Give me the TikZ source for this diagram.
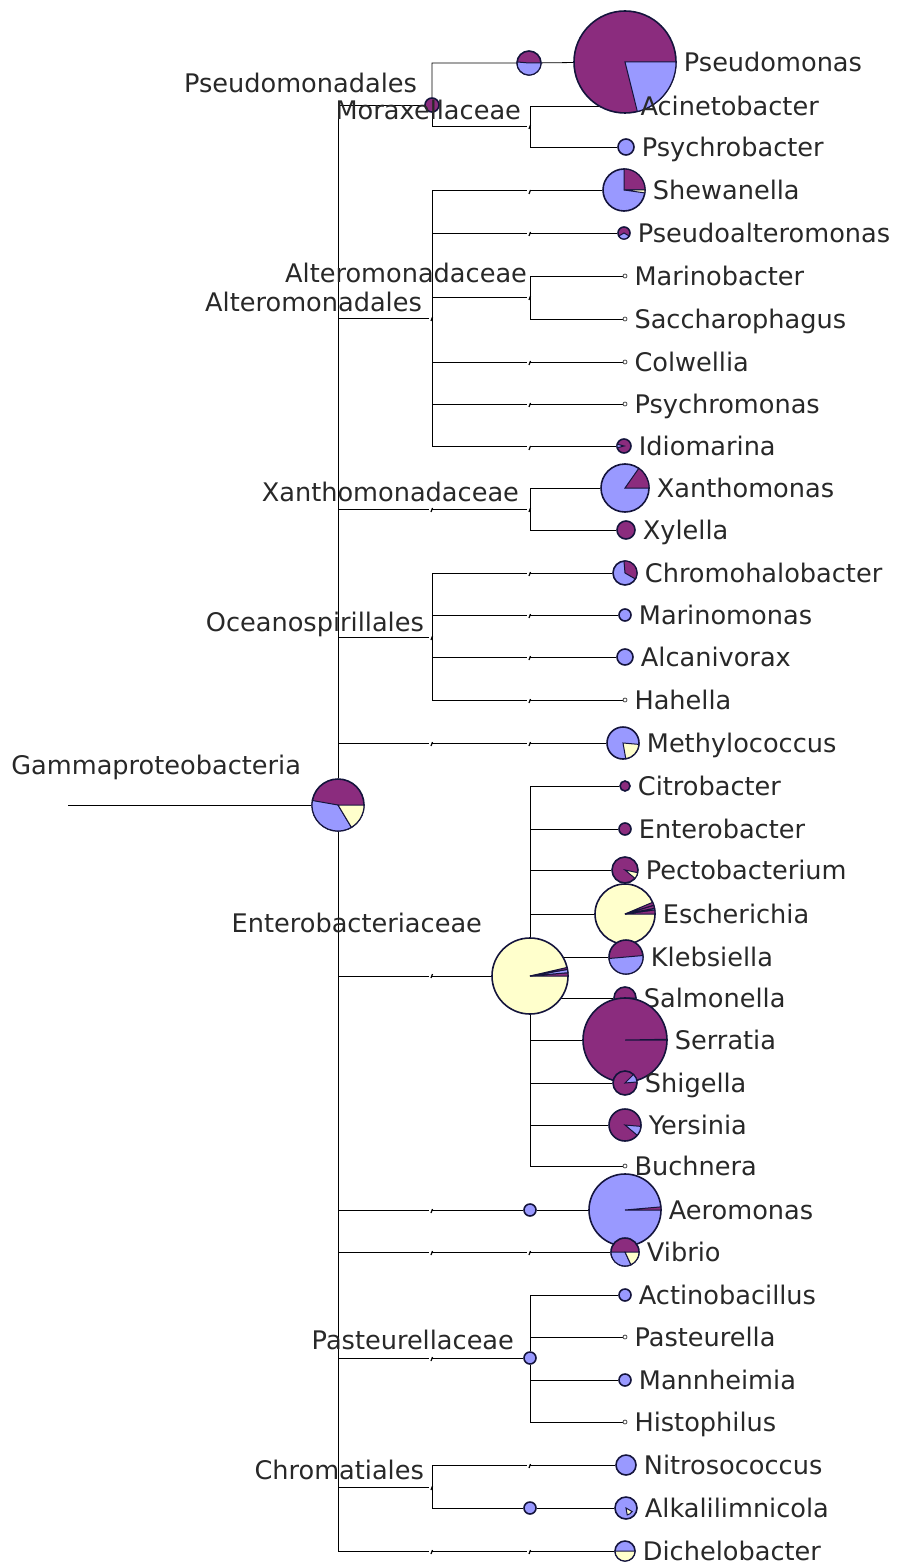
\documentclass[tikz,border=0pt]{standalone}
\usepackage{fontspec}
\setmainfont{DejaVu Sans}
\usetikzlibrary{positioning,backgrounds}

\definecolor{pmag}{RGB}{139,44,126}
\definecolor{pblue}{RGB}{153,153,255}
\definecolor{pcream}{RGB}{255,255,204}
\definecolor{pieedge}{RGB}{20,20,60}
\definecolor{txt}{RGB}{40,40,40}

% one wedge of a pie node: node, radius, from, to, colour
\newcommand{\pieslice}[5]{%
  \filldraw[fill=#5, draw=pieedge, line width=0.5pt] (#1.center) -- ++(#3:#2)
    arc[start angle=#3, end angle=#4, radius=#2] -- cycle;}

\begin{document}
\begin{tikzpicture}[x=0.5pt, y=0.5pt, line width=1.1pt,
  pienode/.style={circle, draw=pieedge, line width=0.8pt, inner sep=0pt},
  leafdot/.style={circle, draw=black!70, fill=white, line width=0.4pt, inner sep=0pt, minimum size=2pt},
  taxon/.style={inner sep=0pt, text=txt, font=\fontsize{12.8}{15}\selectfont, text height=9.3pt, text depth=0pt},
  clade/.style={taxon, anchor=east}]
  \useasboundingbox (0,0) rectangle (896,-1567);

  % root
  \coordinate (origin) at (68,-805);
  \node[pienode, minimum size=26pt, fill=pmag] (gamma) at (338,-805) {};
  \pieslice{gamma}{26}{170}{301}{pblue}
  \pieslice{gamma}{26}{301}{360}{pcream}
  \node[clade] (gamma-t) at (302,-765) {Gammaproteobacteria};

  % Pseudomonadales
  \node[pienode, minimum size=7pt, fill=pmag] (pseudomonadales) at (432,-105) {};
  \node[clade] (pseudomonadales-t) at (418,-83) {Pseudomonadales};
  \node[pienode, minimum size=12pt, fill=pmag] (pseudomonadaceae) at (529,-63) {};
  \pieslice{pseudomonadaceae}{12}{175}{360}{pblue}
  \node[leafdot] (acinetobacter) at (625,-106) {};
  \node[pienode, minimum size=51pt, fill=pmag] (pseudomonas) at (625,-62) {};
  \pieslice{pseudomonas}{51}{-76}{0}{pblue}
  \node[taxon, right=3pt of pseudomonas] (pseudomonas-t) {Pseudomonas};
  \coordinate (moraxellaceae) at (530,-126);
  \node[clade] (moraxellaceae-t) at (522,-110) {Moraxellaceae};
  \node[taxon, right=6pt of acinetobacter] (acinetobacter-t) {Acinetobacter};
  \node[pienode, minimum size=8pt, fill=pblue] (psychrobacter) at (626,-147) {};
  \node[taxon, right=3pt of psychrobacter] (psychrobacter-t) {Psychrobacter};

  % Alteromonadales
  \coordinate (alteromonadales) at (432,-318);
  \node[clade] (alteromonadales-t) at (423,-302) {Alteromonadales};
  \coordinate (alteromonadaceae) at (530,-297);
  \node[clade] (alteromonadaceae-t) at (528,-273) {Alteromonadaceae};
  \node[pienode, minimum size=21pt, fill=pblue] (shewanella) at (624,-190) {};
  \pieslice{shewanella}{21}{0}{90}{pmag}
  \pieslice{shewanella}{21}{-8}{0}{pcream}
  \node[taxon, right=3pt of shewanella] (shewanella-t) {Shewanella};
  \node[pienode, minimum size=6pt, fill=pmag] (pseudoalteromonas) at (624,-233) {};
  \pieslice{pseudoalteromonas}{6}{-150}{-30}{pblue}
  \node[taxon, right=3pt of pseudoalteromonas] (pseudoalteromonas-t) {Pseudoalteromonas};
  \node[leafdot] (marinobacter) at (625,-276) {};
  \node[taxon, right=3pt of marinobacter] (marinobacter-t) {Marinobacter};
  \node[leafdot] (saccharophagus) at (625,-319) {};
  \node[taxon, right=3pt of saccharophagus] (saccharophagus-t) {Saccharophagus};
  \node[leafdot] (colwellia) at (625,-362) {};
  \node[taxon, right=3pt of colwellia] (colwellia-t) {Colwellia};
  \node[leafdot] (psychromonas) at (625,-404) {};
  \node[taxon, right=3pt of psychromonas] (psychromonas-t) {Psychromonas};
  \node[pienode, minimum size=7pt, fill=pmag] (idiomarina) at (624,-446) {};
  \pieslice{idiomarina}{7}{165}{195}{pblue}
  \node[taxon, right=3pt of idiomarina] (idiomarina-t) {Idiomarina};

  % Xanthomonadaceae
  \coordinate (xanthomonadaceae) at (530,-509);
  \node[clade] (xanthomonadaceae-t) at (520,-492) {Xanthomonadaceae};
  \node[pienode, minimum size=24pt, fill=pblue] (xanthomonas) at (625,-488) {};
  \pieslice{xanthomonas}{24}{0}{55}{pmag}
  \node[taxon, right=3pt of xanthomonas] (xanthomonas-t) {Xanthomonas};
  \node[pienode, minimum size=9pt, fill=pmag] (xylella) at (626,-530) {};
  \node[taxon, right=3pt of xylella] (xylella-t) {Xylella};

  % Oceanospirillales
  \coordinate (oceanospirillales) at (432,-637);
  \node[clade] (oceanospirillales-t) at (425,-622) {Oceanospirillales};
  \node[pienode, minimum size=12pt, fill=pblue] (chromohalobacter) at (625,-573) {};
  \pieslice{chromohalobacter}{12}{-30}{95}{pmag}
  \node[taxon, right=3pt of chromohalobacter] (chromohalobacter-t) {Chromohalobacter};
  \node[pienode, minimum size=6pt, fill=pblue] (marinomonas) at (625,-615) {};
  \node[taxon, right=3pt of marinomonas] (marinomonas-t) {Marinomonas};
  \node[pienode, minimum size=8pt, fill=pblue] (alcanivorax) at (625,-657) {};
  \node[taxon, right=3pt of alcanivorax] (alcanivorax-t) {Alcanivorax};
  \node[leafdot] (hahella) at (625,-700) {};
  \node[taxon, right=3pt of hahella] (hahella-t) {Hahella};

  \node[pienode, minimum size=16pt, fill=pblue] (methylococcus) at (623,-743) {};
  \pieslice{methylococcus}{16}{-80}{-5}{pcream}
  \node[taxon, right=3pt of methylococcus] (methylococcus-t) {Methylococcus};

  % Enterobacteriaceae
  \node[pienode, minimum size=38pt, fill=pcream] (enterobacteriaceae) at (530,-976) {};
  \pieslice{enterobacteriaceae}{38}{0}{5}{pmag}
  \pieslice{enterobacteriaceae}{38}{5}{10}{pblue}
  \pieslice{enterobacteriaceae}{38}{10}{13}{pmag}
  \node[clade] (enterobacteriaceae-t) at (483,-923) {Enterobacteriaceae};
  \node[pienode, minimum size=5pt, fill=pmag] (citrobacter) at (625,-786) {};
  \node[taxon, right=3pt of citrobacter] (citrobacter-t) {Citrobacter};
  \node[pienode, minimum size=6pt, fill=pmag] (enterobacter) at (625,-829) {};
  \node[taxon, right=3pt of enterobacter] (enterobacter-t) {Enterobacter};
  \node[pienode, minimum size=13pt, fill=pmag] (pectobacterium) at (625,-870) {};
  \pieslice{pectobacterium}{13}{-40}{-12}{pcream}
  \node[taxon, right=3pt of pectobacterium] (pectobacterium-t) {Pectobacterium};
  \node[pienode, minimum size=30pt, fill=pcream] (escherichia) at (625,-914) {};
  \pieslice{escherichia}{30}{0}{8}{pmag}
  \pieslice{escherichia}{30}{8}{11}{pblue}
  \pieslice{escherichia}{30}{11}{17}{pmag}
  \pieslice{escherichia}{30}{17}{23}{pmag}
  \node[taxon, right=3pt of escherichia] (escherichia-t) {Escherichia};
  \node[pienode, minimum size=17pt, fill=pmag] (klebsiella) at (626,-957) {};
  \pieslice{klebsiella}{17}{185}{365}{pblue}
  \node[taxon, right=3pt of klebsiella] (klebsiella-t) {Klebsiella};
  \node[pienode, minimum size=11pt, fill=pmag] (salmonella) at (625,-998) {};
  \pieslice{salmonella}{11}{-35}{0}{pblue}
  \node[taxon, right=3pt of salmonella] (salmonella-t) {Salmonella};
  \node[pienode, minimum size=42pt, fill=pmag] (serratia) at (625,-1040) {};
  \pieslice{serratia}{42}{0}{1}{pmag}
  \node[taxon, right=3pt of serratia] (serratia-t) {Serratia};
  \node[pienode, minimum size=12pt, fill=pmag] (shigella) at (625,-1083) {};
  \pieslice{shigella}{12}{5}{45}{pblue}
  \node[taxon, right=3pt of shigella] (shigella-t) {Shigella};
  \node[pienode, minimum size=16pt, fill=pmag] (yersinia) at (625,-1125) {};
  \pieslice{yersinia}{16}{-40}{-5}{pblue}
  \node[taxon, right=3pt of yersinia] (yersinia-t) {Yersinia};
  \node[leafdot] (buchnera) at (625,-1166) {};
  \node[taxon, right=3pt of buchnera] (buchnera-t) {Buchnera};

  % Aeromonas, Vibrio
  \node[pienode, minimum size=6pt, fill=pblue] (aeromonadaceae) at (530,-1210) {};
  \node[pienode, minimum size=36pt, fill=pblue] (aeromonas) at (625,-1210) {};
  \pieslice{aeromonas}{36}{0}{5}{pmag}
  \node[taxon, right=3pt of aeromonas] (aeromonas-t) {Aeromonas};
  \node[pienode, minimum size=14pt, fill=pmag] (vibrio) at (625,-1252) {};
  \pieslice{vibrio}{14}{180}{295}{pblue}
  \pieslice{vibrio}{14}{295}{360}{pcream}
  \node[taxon, right=3pt of vibrio] (vibrio-t) {Vibrio};

  % Pasteurellaceae
  \node[pienode, minimum size=6pt, fill=pblue] (pasteurellaceae) at (530,-1358) {};
  \node[clade] (pasteurellaceae-t) at (515,-1340) {Pasteurellaceae};
  \node[pienode, minimum size=6pt, fill=pblue] (actinobacillus) at (625,-1295) {};
  \node[taxon, right=3pt of actinobacillus] (actinobacillus-t) {Actinobacillus};
  \node[leafdot] (pasteurella) at (625,-1337) {};
  \node[taxon, right=3pt of pasteurella] (pasteurella-t) {Pasteurella};
  \node[pienode, minimum size=6pt, fill=pblue] (mannheimia) at (625,-1380) {};
  \node[taxon, right=3pt of mannheimia] (mannheimia-t) {Mannheimia};
  \node[leafdot] (histophilus) at (625,-1422) {};
  \node[taxon, right=3pt of histophilus] (histophilus-t) {Histophilus};

  % Chromatiales
  \coordinate (chromatiales) at (432,-1487);
  \node[clade] (chromatiales-t) at (425,-1470) {Chromatiales};
  \node[pienode, minimum size=10pt, fill=pblue] (nitrosococcus) at (626,-1465) {};
  \node[taxon, right=3pt of nitrosococcus] (nitrosococcus-t) {Nitrosococcus};
  \node[pienode, minimum size=6pt, fill=pblue] (ectothiorhodospiraceae) at (530,-1508) {};
  \node[pienode, minimum size=11pt, fill=pblue] (alkalilimnicola) at (626,-1508) {};
  \pieslice{alkalilimnicola}{7}{-80}{-30}{pcream}
  \node[taxon, right=3pt of alkalilimnicola] (alkalilimnicola-t) {Alkalilimnicola};

  \node[pienode, minimum size=10pt, fill=pblue] (dichelobacter) at (625,-1551) {};
  \pieslice{dichelobacter}{10}{180}{360}{pcream}
  \node[taxon, right=3pt of dichelobacter] (dichelobacter-t) {Dichelobacter};

  \begin{pgfonlayer}{background}
    \draw (origin) -- (gamma);
    % Pseudomonadales
    \draw (gamma) |- (pseudomonadales);
    \draw (pseudomonadales) |- (pseudomonadaceae) -- (pseudomonas);
    \draw (pseudomonadales) |- (moraxellaceae);
    \draw (moraxellaceae) |- (acinetobacter);
    \draw (moraxellaceae) |- (psychrobacter);
    % Alteromonadales
    \draw (gamma) |- (alteromonadales);
    \draw (alteromonadales) |- (shewanella);
    \draw (alteromonadales) |- (pseudoalteromonas);
    \draw (alteromonadales) |- (alteromonadaceae);
    \draw (alteromonadaceae) |- (marinobacter);
    \draw (alteromonadaceae) |- (saccharophagus);
    \draw (alteromonadales) |- (colwellia);
    \draw (alteromonadales) |- (psychromonas);
    \draw (alteromonadales) |- (idiomarina);
    % Xanthomonadaceae
    \draw (gamma) |- (xanthomonadaceae);
    \draw (xanthomonadaceae) |- (xanthomonas);
    \draw (xanthomonadaceae) |- (xylella);
    % Oceanospirillales
    \draw (gamma) |- (oceanospirillales);
    \draw (oceanospirillales) |- (chromohalobacter);
    \draw (oceanospirillales) |- (marinomonas);
    \draw (oceanospirillales) |- (alcanivorax);
    \draw (oceanospirillales) |- (hahella);
    \draw (gamma) |- (methylococcus);
    % Enterobacteriaceae
    \draw (gamma) |- (enterobacteriaceae);
    \draw (enterobacteriaceae) |- (citrobacter);
    \draw (enterobacteriaceae) |- (enterobacter);
    \draw (enterobacteriaceae) |- (pectobacterium);
    \draw (enterobacteriaceae) |- (escherichia);
    \draw (enterobacteriaceae) |- (klebsiella);
    \draw (enterobacteriaceae) |- (salmonella);
    \draw (enterobacteriaceae) |- (serratia);
    \draw (enterobacteriaceae) |- (shigella);
    \draw (enterobacteriaceae) |- (yersinia);
    \draw (enterobacteriaceae) |- (buchnera);
    \draw (gamma) |- (aeromonadaceae) -- (aeromonas);
    \draw (gamma) |- (vibrio);
    % Pasteurellaceae
    \draw (gamma) |- (pasteurellaceae);
    \draw (pasteurellaceae) |- (actinobacillus);
    \draw (pasteurellaceae) |- (pasteurella);
    \draw (pasteurellaceae) |- (mannheimia);
    \draw (pasteurellaceae) |- (histophilus);
    % Chromatiales
    \draw (gamma) |- (chromatiales);
    \draw (chromatiales) |- (nitrosococcus);
    \draw (chromatiales) |- (ectothiorhodospiraceae) -- (alkalilimnicola);
    \draw (gamma) |- (dichelobacter);

    % small knots where a branch passes a rank
    \foreach \x/\y in {530/126,530/191,530/233,530/297,530/362,530/404,530/447,
                       530/509,530/573,530/615,530/657,530/700,530/743,530/1252,
                       530/1465,530/1551,432/318,432/509,432/637,432/743,432/975,
                       432/1210,432/1252,432/1358,432/1487,432/1551}
    {
      \fill[white] (\x-3,-\y-1.5) rectangle (\x,-\y+1.5);
      \draw[line width=0.6pt] (\x+0.5,-\y+1) -- (\x-1,-\y-3);
    }
  \end{pgfonlayer}
\end{tikzpicture}
\end{document}
